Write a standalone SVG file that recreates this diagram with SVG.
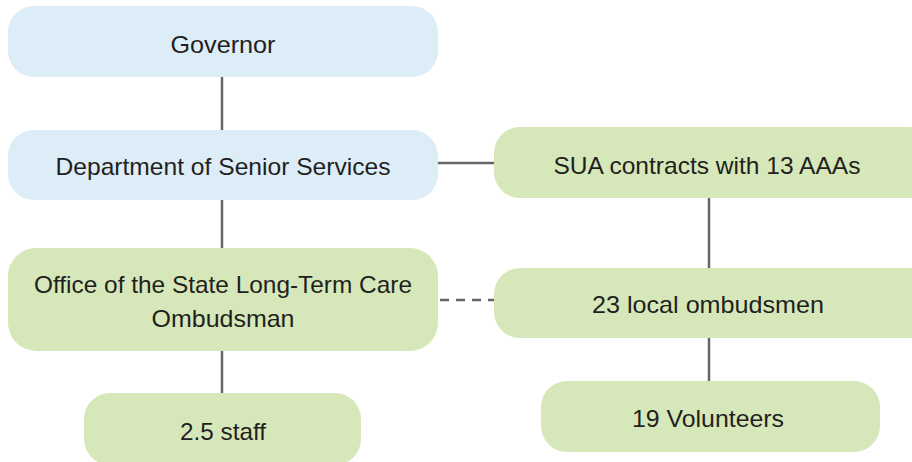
<svg xmlns="http://www.w3.org/2000/svg" width="912" height="462" viewBox="0 0 912 462">
<style>
.blue{fill:#ddedf8}
.green{fill:#d6e8b9}
.t{font-family:"Liberation Sans",Arial,sans-serif;font-size:24px;fill:#231f20;text-anchor:middle}
.c{stroke:#666;stroke-width:2.5;fill:none}
.d{stroke-dasharray:9 7}
</style>
<rect width="912" height="462" fill="#fff"/>
<g id="connectors">
<line class="c" x1="222" y1="77" x2="222" y2="130"/>
<line class="c" x1="222" y1="200" x2="222" y2="248"/>
<line class="c" x1="222" y1="351" x2="222" y2="393"/>
<line class="c" x1="438" y1="163" x2="494" y2="163"/>
<line class="c" x1="709" y1="198" x2="709" y2="268"/>
<line class="c" x1="709" y1="338" x2="709" y2="381"/>
<line class="c d" x1="440" y1="300" x2="494" y2="300"/>
</g>
<g id="governor"><rect class="blue" x="8" y="6" width="430" height="71" rx="26"/><text class="t" x="223" y="53" textLength="105" lengthAdjust="spacingAndGlyphs">Governor</text></g>
<g id="dept"><rect class="blue" x="8" y="130" width="430" height="70" rx="26"/><text class="t" x="223" y="175" textLength="335" lengthAdjust="spacingAndGlyphs">Department of Senior Services</text></g>
<g id="office"><rect class="green" x="8" y="248" width="430" height="103" rx="28"/><text class="t" x="223" y="293" textLength="378" lengthAdjust="spacingAndGlyphs">Office of the State Long-Term Care</text><text class="t" x="223" y="327" textLength="143" lengthAdjust="spacingAndGlyphs">Ombudsman</text></g>
<g id="staff"><rect class="green" x="84" y="393" width="277" height="72" rx="26"/><text class="t" x="223" y="440" textLength="86" lengthAdjust="spacingAndGlyphs">2.5 staff</text></g>
<g id="sua"><rect class="green" x="494" y="127" width="440" height="71" rx="26"/><text class="t" x="707" y="174" textLength="307" lengthAdjust="spacingAndGlyphs">SUA contracts with 13 AAAs</text></g>
<g id="local"><rect class="green" x="494" y="268" width="440" height="70" rx="26"/><text class="t" x="708" y="313" textLength="232" lengthAdjust="spacingAndGlyphs">23 local ombudsmen</text></g>
<g id="vol"><rect class="green" x="541" y="381" width="339" height="71" rx="26"/><text class="t" x="708" y="427" textLength="152" lengthAdjust="spacingAndGlyphs">19 Volunteers</text></g>
</svg>
